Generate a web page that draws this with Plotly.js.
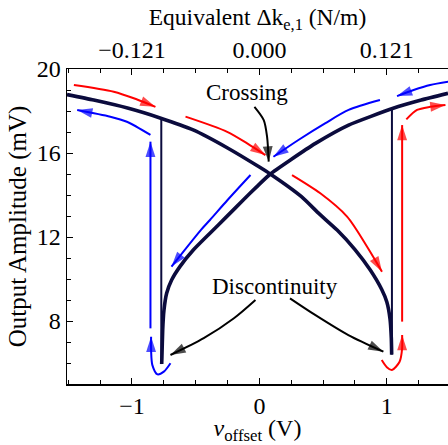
<!DOCTYPE html>
<html><head><meta charset="utf-8">
<script src="https://cdn.plot.ly/plotly-3.0.1.min.js"></script>
<style>html,body{margin:0;padding:0;overflow:hidden;background:#fff}</style>
</head><body><div id="chart" style="width:448px;height:445px"></div>
<script>
// Forward-sweep branch (descending) and backward-sweep branch (ascending)
const fwdX = [-1.51, -1.30, -1.035, -0.78, -0.52, -0.25, 0.0, 0.085, 0.33, 0.47, 0.61, 0.75, 0.87, 0.96, 1.0, 1.025, 1.035, 1.038];
const fwdY = [18.78, 18.52, 18.14, 17.67, 17.1, 16.24, 15.33, 15.0, 13.92, 13.1, 12.33, 11.4, 10.43, 9.5, 8.9, 8.1, 7.2, 6.4];
const bwdX = [-0.767, -0.765, -0.759, -0.749, -0.728, -0.689, -0.624, -0.519, -0.388, -0.257, -0.127, -0.02, 0.085, 0.243, 0.44, 0.70, 1.05, 1.27, 1.48];
const bwdY = [5.95, 6.3, 7.57, 8.52, 9.32, 9.95, 10.59, 11.38, 12.18, 12.97, 13.76, 14.4, 15.0, 15.67, 16.46, 17.33, 18.13, 18.52, 18.84];
// Jumps (discontinuities)
const fwdJumpX = [1.04, 1.04];
const fwdJumpY = [6.4, 18.12];
const bwdJumpX = [-0.77, -0.77];
const bwdJumpY = [5.95, 17.65];

// Red arrows (forward sweep)
const red1X = [-1.456, -1.143, -0.96, -0.816];
const red1Y = [19.24, 18.92, 18.55, 18.2];
const red2X = [-0.58, -0.253, -0.096, 0.047];
const red2Y = [17.73, 17.01, 16.46, 15.9];
const red3X = [0.256, 0.478, 0.688, 0.845, 0.962];
const red3Y = [14.95, 14.08, 12.97, 11.54, 10.35];
const red4X = [1.12, 1.12];
const red4Y = [7.97, 17.33];
const red5X = [0.96, 1.0, 1.04, 1.10, 1.12, 1.12];
const red5Y = [6.14, 5.8, 5.67, 6.06, 6.7, 7.33];
const red6X = [1.153, 1.237, 1.34, 1.46];
const red6Y = [17.6, 18.05, 18.2, 18.29];
// Blue arrows (backward sweep)
const blue1X = [1.485, 1.34, 1.21, 1.08];
const blue1Y = [19.4, 19.24, 19.0, 18.71];
const blue2X = [0.946, 0.70, 0.515, 0.306, 0.11];
const blue2Y = [18.52, 18.05, 17.41, 16.62, 15.82];
const blue3X = [-0.07, -0.25, -0.388, -0.46, -0.69];
const blue3Y = [14.95, 13.76, 12.81, 12.33, 10.59];
const blue4X = [-0.855, -0.855];
const blue4Y = [7.65, 16.54];
const blue5X = [-0.698, -0.75, -0.80, -0.84, -0.85, -0.85];
const blue5Y = [5.99, 5.59, 5.46, 5.9, 6.6, 7.25];
const blue6X = [-0.855, -1.04, -1.17, -1.43];
const blue6Y = [16.86, 17.49, 17.73, 18.05];
// Black pointer arrows
const crossArrowX = [-0.039, 0.034, 0.060, 0.073];
const crossArrowY = [18.20, 17.57, 16.78, 15.59];
const discLeftX = [-0.031, -0.20, -0.437, -0.698];
const discLeftY = [9.0, 8.13, 7.18, 6.38];
const discRightX = [0.24, 0.437, 0.698, 0.973];
const discRightY = [9.08, 8.29, 7.33, 6.54];

// Labels
const crossingLabel = {text: 'Crossing', x: -0.098, y: 18.88};
const discLabel = {text: 'Discontinuity', x: 0.125, y: 9.62};
const keTickVals = [-1, 0, 1];
const keTickText = ['\u22120.121', '0.000', '0.121'];

const navy = '#0b0b3d';
const red = '#ff0000';
const blue = '#0000ff';

function curve(xs, ys, w) {
  return {x: xs, y: ys, mode: 'lines', line: {color: navy, width: w, shape: 'spline', smoothing: 0.5},
          hoverinfo: 'skip', showlegend: false};
}
function arrow(xs, ys, color, w) {
  return {x: xs, y: ys, mode: 'lines+markers',
          line: {color: color, width: w, shape: 'spline', smoothing: 0.8},
          marker: {symbol: 'arrow', angleref: 'previous', color: color, line: {width: 0},
                   size: xs.map((_, i) => i === xs.length - 1 ? 16 : 0)},
          hoverinfo: 'skip', showlegend: false, cliponaxis: false};
}

const traces = [
  curve(fwdJumpX, fwdJumpY, 2),
  curve(bwdJumpX, bwdJumpY, 2),
  curve(fwdX, fwdY, 3.6),
  curve(bwdX, bwdY, 3.6),
  arrow(red1X, red1Y, red, 2), arrow(red2X, red2Y, red, 2), arrow(red3X, red3Y, red, 2),
  arrow(red4X, red4Y, red, 2), arrow(red5X, red5Y, red, 2), arrow(red6X, red6Y, red, 2),
  arrow(blue1X, blue1Y, blue, 2), arrow(blue2X, blue2Y, blue, 2), arrow(blue3X, blue3Y, blue, 2),
  arrow(blue4X, blue4Y, blue, 2), arrow(blue5X, blue5Y, blue, 2), arrow(blue6X, blue6Y, blue, 2),
  arrow(crossArrowX, crossArrowY, '#000', 2), arrow(discLeftX, discLeftY, '#000', 2), arrow(discRightX, discRightY, '#000', 2),
  {x: [0], y: [10], xaxis: 'x2', mode: 'markers', marker: {opacity: 0}, hoverinfo: 'skip', showlegend: false}
];

const fam = 'Liberation Serif, Times New Roman, serif';
const axisCommon = {
  showline: true, linewidth: 1.5, linecolor: '#000', showgrid: false, zeroline: false,
  ticks: 'inside', ticklen: 6, tickwidth: 1, tickcolor: '#000',
  tickfont: {family: fam, size: 24, color: '#000'}
};
const xRange = [-1.51, 1.48];

const layout = {
  width: 448, height: 445,
  margin: {l: 67, r: 0, t: 69, b: 61},
  paper_bgcolor: '#fff', plot_bgcolor: '#fff',
  font: {family: fam, color: '#000'},
  showlegend: false,
  xaxis: Object.assign({}, axisCommon, {
    range: xRange, tickmode: 'linear', tick0: 0, dtick: 1,
    minor: {tick0: 0, dtick: 0.25, ticks: 'inside', ticklen: 4, tickcolor: '#000', tickwidth: 1},
    title: {text: '<i>v</i><sub>offset</sub> (V)', font: {family: fam, size: 24}, standoff: 1}
  }),
  xaxis2: Object.assign({}, axisCommon, {
    overlaying: 'x', side: 'top', range: xRange, tickmode: 'array', tickvals: keTickVals, ticktext: keTickText,
    minor: {tick0: 0, dtick: 0.25, ticks: 'inside', ticklen: 4, tickcolor: '#000', tickwidth: 1},
    title: {text: 'Equivalent \u0394k<sub>e,1</sub> (N/m)', font: {family: fam, size: 23.5}, standoff: 4}
  }),
  yaxis: Object.assign({}, axisCommon, {
    range: [5, 20], tickmode: 'linear', tick0: 0, dtick: 4,
    minor: {tick0: 0, dtick: 1, ticks: 'inside', ticklen: 4, tickcolor: '#000', tickwidth: 1},
    title: {text: 'Output Amplitude (mV)', font: {family: fam, size: 25}, standoff: 3}
  }),
  annotations: [crossingLabel, discLabel].map(a => ({
    x: a.x, y: a.y, xref: 'x', yref: 'y', text: a.text, showarrow: false,
    font: {family: fam, size: 23, color: '#000'}, bgcolor: 'rgba(0,0,0,0)'
  }))
};

Plotly.newPlot('chart', traces, layout, {staticPlot: true, displayModeBar: false});
</script></body></html>
